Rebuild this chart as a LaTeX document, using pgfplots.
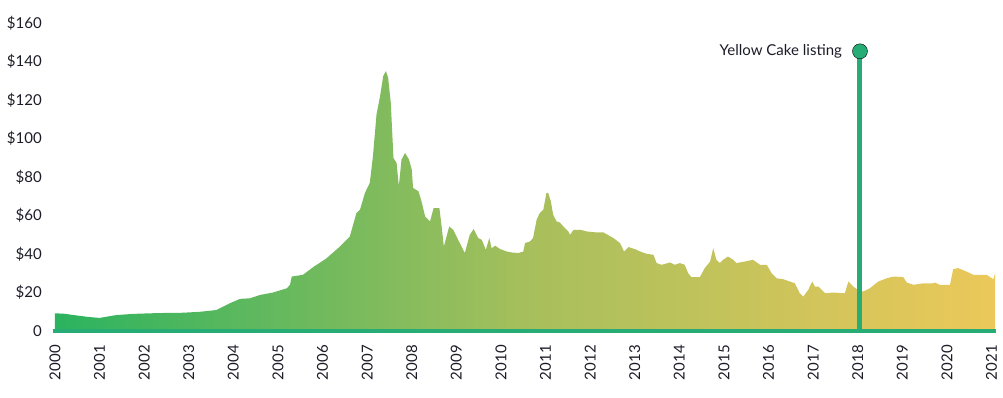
\documentclass[border=0pt]{standalone}
\usepackage{pgfplots}
\pgfplotsset{compat=1.18}
\usepackage{pgfplotstable}
\usepackage{fontspec}
\setmainfont{Lato}
\definecolor{lblc}{RGB}{28,28,40}
\definecolor{linec}{RGB}{38,172,116}
\definecolor{gleft}{RGB}{43,179,95}
\definecolor{gmid}{RGB}{166,191,92}
\definecolor{gright}{RGB}{236,200,90}
\pgfplotstableread{
year price
2000.00 9.2
2000.20 9.0
2000.45 8.2
2000.75 7.3
2001.00 6.8
2001.10 7.2
2001.38 8.3
2001.75 8.9
2002.13 9.2
2002.50 9.4
2002.87 9.5
2003.25 10.0
2003.62 10.9
2003.92 14.4
2004.15 16.7
2004.37 17.0
2004.60 18.75
2004.89 20.0
2005.20 22.2
2005.27 24.0
2005.31 28.3
2005.56 29.2
2005.79 33.2
2006.09 37.8
2006.39 43.9
2006.61 49.0
2006.76 61.3
2006.84 63.0
2006.95 71.7
2007.06 77.0
2007.13 90.8
2007.21 112.5
2007.29 122.0
2007.36 132.4
2007.42 135.0
2007.47 131.6
2007.53 118.6
2007.59 89.9
2007.66 87.3
2007.71 75.2
2007.77 89.0
2007.85 92.5
2007.94 89.0
2008.00 83.9
2008.03 74.3
2008.15 72.6
2008.22 67.3
2008.30 59.5
2008.41 56.9
2008.49 63.9
2008.62 63.9
2008.67 54.3
2008.72 43.9
2008.84 54.3
2008.93 52.6
2009.04 47.4
2009.19 40.5
2009.30 50.0
2009.39 53.0
2009.49 48.3
2009.57 47.4
2009.66 42.2
2009.74 48.3
2009.79 43.0
2009.87 44.3
2009.98 42.6
2010.13 41.3
2010.24 40.8
2010.39 40.5
2010.50 41.3
2010.54 45.7
2010.65 46.5
2010.72 48.3
2010.80 57.8
2010.87 61.3
2010.95 63.0
2011.02 71.7
2011.06 71.7
2011.12 67.3
2011.17 60.4
2011.25 56.9
2011.32 56.4
2011.40 54.3
2011.51 51.7
2011.55 50.0
2011.63 52.6
2011.78 52.6
2011.93 51.7
2012.15 51.2
2012.30 51.2
2012.52 48.3
2012.67 45.7
2012.76 41.3
2012.86 43.6
2013.01 42.5
2013.12 41.3
2013.27 40.1
2013.42 39.6
2013.49 35.3
2013.60 34.4
2013.79 35.6
2013.90 34.4
2014.01 35.3
2014.12 34.4
2014.20 30.0
2014.27 28.0
2014.46 28.0
2014.57 32.7
2014.69 36.1
2014.76 43.0
2014.83 37.0
2014.91 35.3
2014.98 37.0
2015.09 38.7
2015.21 37.0
2015.28 35.3
2015.47 36.1
2015.65 37.0
2015.81 34.4
2015.96 34.4
2016.07 30.0
2016.18 27.4
2016.33 26.9
2016.48 25.7
2016.59 24.8
2016.70 19.6
2016.78 17.9
2016.89 21.4
2016.98 25.7
2017.04 23.1
2017.12 23.1
2017.27 19.6
2017.45 20.0
2017.71 19.6
2017.79 25.7
2017.90 23.1
2018.00 21.4
2018.12 20.5
2018.27 22.2
2018.46 25.7
2018.65 27.4
2018.80 28.3
2019.02 28.0
2019.10 25.2
2019.25 24.0
2019.47 24.8
2019.69 24.8
2019.73 25.2
2019.84 24.0
2020.07 24.0
2020.14 32.1
2020.25 32.7
2020.44 30.9
2020.59 29.2
2020.89 29.2
2021.04 26.9
2021.08 30.0
}\pricedata
\begin{document}
\begin{tikzpicture}
\begin{axis}[
  scale only axis,
  width=941pt, height=308pt,
  xmin=2000, xmax=2021.1,
  ymin=0, ymax=160,
  clip=false,
  axis line style={draw=none},
  tick style={draw=none},
  xtick={2000,2001,...,2021},
  xticklabels={2000,2001,2002,2003,2004,2005,2006,2007,2008,2009,2010,2011,2012,2013,2014,2015,2016,2017,2018,2019,2020,2021},
  ytick={0,20,...,160},
  yticklabels={0,\$20,\$40,\$60,\$80,\$100,\$120,\$140,\$160},
  /pgf/number format/assume math mode=true,
  ticklabel style={font=\fontsize{15}{18}\selectfont, text=lblc},
  yticklabel style={anchor=east, inner sep=0pt, xshift=-13pt},
  xticklabel style={rotate=90, anchor=east, inner sep=0pt},
  xticklabel shift=14pt,
]
\addplot[draw=none, left color=gleft, right color=gright, middle color=gmid] table[x=year, y=price] {\pricedata} \closedcycle;
\addplot[linec, line width=4pt] coordinates {(1999.95,0) (2021.1,0)};
\addplot[linec, line width=5pt] coordinates {(2018.05,0) (2018.05,145.3)};
\addplot[only marks, mark=*, mark size=7.5pt, mark options={fill=linec, draw=none}] coordinates {(2018.05,145.3)};
\node[anchor=east, inner sep=0pt, text=lblc, font=\fontsize{15}{18}\selectfont] at (axis cs:2017.65,145.3) {Yellow Cake listing};
\coordinate (bbtl) at (rel axis cs:-0.0584,1.0747);
\coordinate (bbbr) at (rel axis cs:1.00744,-0.2143);
\end{axis}
\pgfresetboundingbox
\useasboundingbox (bbtl) rectangle (bbbr);
\end{tikzpicture}
\end{document}
